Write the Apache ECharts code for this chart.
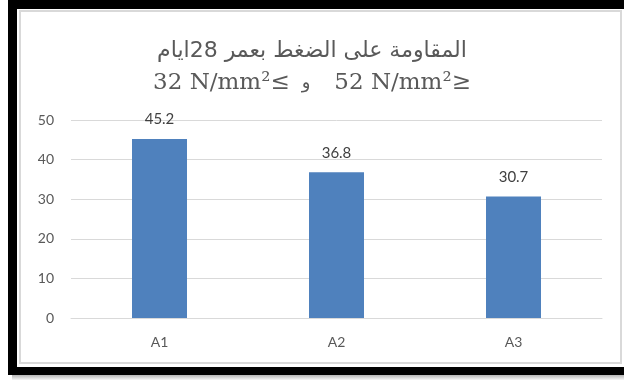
<!DOCTYPE html>
<html>
<head>
<meta charset="utf-8">
<script src="https://cdn.jsdelivr.net/npm/echarts@6/dist/echarts.min.js"></script>
<style>
html,body{margin:0;padding:0;background:#fff;}
#c{width:624px;height:380px;}
</style>
</head>
<body>
<div id="c"></div>
<script>
const categories = ['A1', 'A2', 'A3'];
const strengthValues = [45.2, 36.8, 30.7];
const yTicks = { min: 0, max: 50, interval: 10 };
const titleLine1 = 'المقاومة على الضغط بعمر 28ايام';
const titleLeft = '32 N/mm²≤';
const titleAnd = 'و';
const titleRight = '52 N/mm²≥';

const chart = echarts.init(document.getElementById('c'), null, { renderer: 'canvas' });
chart.setOption({
  backgroundColor: '#ffffff',
  animation: false,
  graphic: [
    { type: 'rect', z: -100, shape: { x: 12, y: 375, width: 620, height: 5 },
      style: { fill: new echarts.graphic.LinearGradient(0, 0, 0, 1, [{offset: 0, color: '#b4b4b4'}, {offset: 1, color: '#f6f6f6'}]) } },
    { type: 'rect', z: -99, shape: { x: 8, y: -10, width: 640, height: 385 }, style: { fill: '#000' } },
    { type: 'rect', z: -98, shape: { x: 17, y: 9, width: 620, height: 358 }, style: { fill: '#fff' } },
    { type: 'rect', z: -97, shape: { x: 20, y: 11, width: 601, height: 352 }, style: { fill: 'none', stroke: '#d9d9d9', lineWidth: 2 } }
  ],
  title: {
    left: 'center',
    top: 30,
    padding: [5, 0, 5, 34],
    text: '{a|' + titleLine1 + '}\n{b|' + titleLeft + '}{w|' + titleAnd + '}{b|' + titleRight + '}',
    textStyle: {
      fontWeight: 'normal',
      rich: {
        a: { fontFamily: 'DejaVu Sans', fontSize: 22, fontWeight: 'normal', color: '#595959', lineHeight: 32 },
        b: { fontFamily: 'DejaVu Serif', fontSize: 23, fontWeight: 'normal', color: '#595959', lineHeight: 32 },
        w: { fontFamily: 'DejaVu Sans', fontSize: 18, fontWeight: 'normal', color: '#595959', lineHeight: 32, padding: [0, 24, 0, 12] }
      }
    }
  },
  grid: { left: 71, right: 22, top: 120, bottom: 62 },
  xAxis: {
    type: 'category',
    data: categories,
    axisLine: { lineStyle: { color: '#d9d9d9', width: 1 } },
    axisTick: { show: false },
    axisLabel: { color: '#595959', fontFamily: 'Lato', fontSize: 14, margin: 17 }
  },
  yAxis: {
    type: 'value',
    min: yTicks.min, max: yTicks.max, interval: yTicks.interval,
    axisLine: { show: false },
    axisTick: { show: false },
    splitLine: { lineStyle: { color: '#d9d9d9', width: 1 } },
    axisLabel: { color: '#595959', fontFamily: 'Lato', fontSize: 14, margin: 17 }
  },
  series: [{
    type: 'bar',
    data: strengthValues,
    barWidth: 55,
    itemStyle: { color: '#4f81bd' },
    label: { show: true, position: 'top', distance: 12, color: '#404040', fontFamily: 'Lato', fontSize: 15 }
  }]
});
</script>
</body>
</html>
